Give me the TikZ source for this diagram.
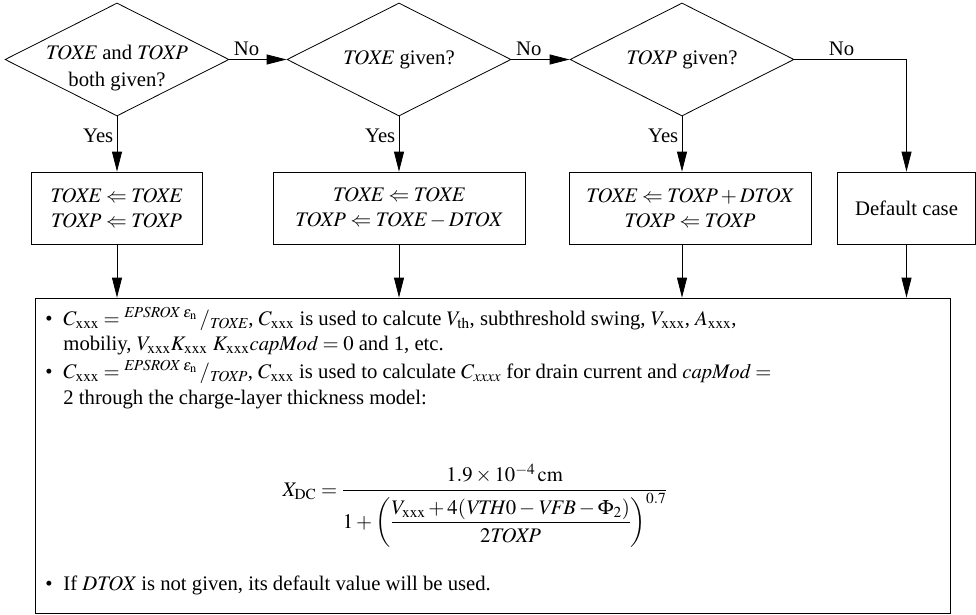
\documentclass[tikz,border=0pt]{standalone}
\usepackage{amsmath}
\usepackage{mathptmx}
\usepackage[no-math]{fontspec}
\setmainfont{Liberation Serif}
\newfontfamily\chartfont{Liberation Serif}
\usetikzlibrary{shapes.geometric,arrows.meta}

\tikzset{
  decision/.style={draw, diamond, aspect=2, inner sep=0pt, minimum width=224pt, minimum height=113pt},
  assign/.style={draw, rectangle, inner sep=2pt, minimum height=72pt, align=center},
  flow/.style={-{Triangle[length=20pt,width=10pt]}},
  note/.style={anchor=base west, inner sep=0pt},
}

\newcommand{\xxx}{\mathrm{xxx}}
\newcommand{\nm}[1]{\mathit{#1}}
\newcommand{\itembullet}{\makebox[18pt][l]{\textbullet}}
% text of a decision, kept out of the diamond size; #1 lowers it
\newcommand{\dtext}[2][5pt]{\raisebox{-#1}[0pt][0pt]{\makebox[0pt]{\begin{tabular}{@{}c@{}}#2\end{tabular}}}}

\begin{document}
\begin{tikzpicture}[x=1pt,y=-1pt,line width=0.8pt,font=\chartfont\fontsize{20.7}{25}\selectfont]
\useasboundingbox (0,0) rectangle (976,615);

% decisions
\node[decision] (both) at (117,59.5) {\dtext[14pt]{$\nm{TOXE}$ and $\nm{TOXP}$\\[2pt] both given?}};
\node[decision] (toxe) at (399,59.5) {\dtext{$\nm{TOXE}$ given?}};
\node[decision] (toxp) at (682,59.5) {\dtext{$\nm{TOXP}$ given?}};

% assignments
\node[assign, minimum width=171pt] (setboth) at (116.5,208) {$\nm{TOXE} \Leftarrow \nm{TOXE}$\\$\nm{TOXP} \Leftarrow \nm{TOXP}$};
\node[assign, minimum width=252pt] (setdtox) at (399,208) {$\nm{TOXE} \Leftarrow \nm{TOXE}$\\$\nm{TOXP} \Leftarrow \nm{TOXE} - \nm{DTOX}$};
\node[assign, minimum width=242pt] (setfromp) at (690,208) {$\nm{TOXE} \Leftarrow \nm{TOXP} + \nm{DTOX}$\\$\nm{TOXP} \Leftarrow \nm{TOXP}$};
\node[assign, minimum width=138pt] (default) at (906.5,208) {Default case};

% notes frame
\node[draw, minimum width=915pt, minimum height=315pt, inner sep=0pt] (notes) at (492.5,455.5) {};

% yes branches
\foreach \d/\b in {both/setboth, toxe/setdtox, toxp/setfromp}
  \draw[flow] (\d.south) -- node[pos=0.35, left] {Yes} (\d.south |- \b.north);

% no branches
\draw[flow] (both) -- node[pos=0.3, above] {No} (toxe);
\draw[flow] (toxe) -- node[pos=0.3, above] {No} (toxp);
\draw[flow] (toxp) -| node[pos=0.21, above] {No} (default);

% down to the notes
\foreach \d/\b in {both/setboth, toxe/setdtox, toxp/setfromp}
  \draw[flow] (\d.south |- \b.south) -- (\d.south |- notes.north);
\draw[flow] (default) -- (default |- notes.north);

% notes text
\node[note] (capE) at (45,325) {\itembullet$C_\xxx = {}^{\nm{EPSROX}\;\varepsilon_{\mathrm{n}}}\,/_{\nm{TOXE}}$, $C_\xxx$ is used to calcute $V_{\mathrm{th}}$, subthreshold swing, $V_\xxx$, $A_\xxx$,};
\node[note] (capEb) at (63,350) {mobiliy, $V_\xxx K_\xxx\ K_\xxx \nm{capMod} = 0$ and 1, etc.};
\node[note] (capP) at (45,378) {\itembullet$C_\xxx = {}^{\nm{EPSROX}\;\varepsilon_{\mathrm{n}}}\,/_{\nm{TOXP}}$, $C_\xxx$ is used to calculate $C_{\nm{xxxx}}$ for drain current and $\nm{capMod} =$};
\node[note] (capPb) at (63,404) {2 through the charge-layer thickness model:};
\node[anchor=base, inner sep=0pt] (xdc) at (475,496) {$\displaystyle X_{\mathrm{DC}} = \frac{1.9\times 10^{-4}\,\mathrm{cm}}{1+\left(\dfrac{V_\xxx + 4(\nm{VTH}0 - \nm{VFB} - \Phi_2)}{2\nm{TOXP}}\right)^{0.7}}$};
\node[note] (dtox) at (45,590) {\itembullet If $\nm{DTOX}$ is not given, its default value will be used.};

\end{tikzpicture}
\end{document}
